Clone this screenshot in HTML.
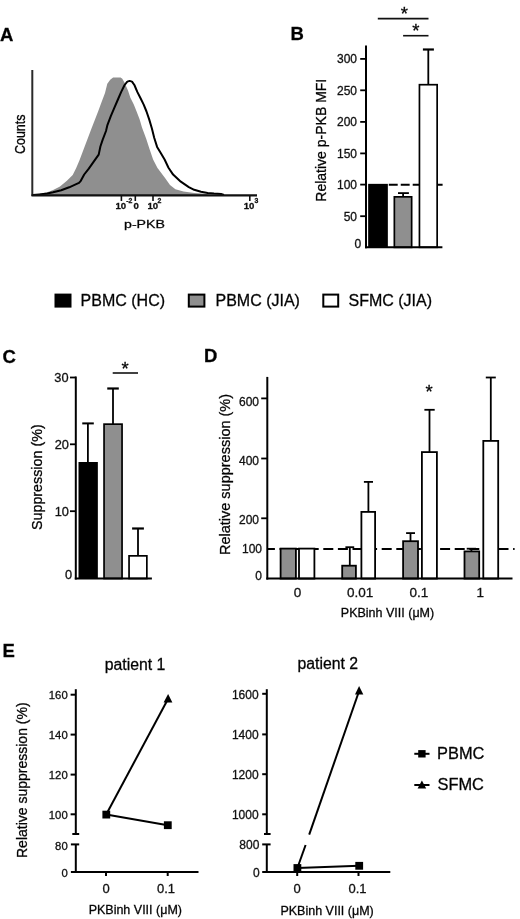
<!DOCTYPE html>
<html><head><meta charset="utf-8">
<style>
html,body{margin:0;padding:0;background:#fff;}
body{width:520px;height:919px;overflow:hidden;}
svg{display:block;font-family:"Liberation Sans",sans-serif;will-change:transform;}
svg text{stroke:#111;stroke-width:0.3px;}
</style></head>
<body>
<svg width="520" height="919" viewBox="0 0 520 919">
<rect x="0" y="0" width="520" height="919" fill="#fff"/>

<!-- ================= Panel A ================= -->
<g id="A">
<text x="0" y="41.3" font-size="18.5" font-weight="bold" fill="#000">A</text>
<polygon fill="#8f8f8f" points="33,195 39.2,194 47.3,192.3 53.1,190 60,186.5 66.9,180.8 72.7,175 76.2,168.1 79.6,160 84.2,147.7 87.7,138.5 91.2,129.2 94.6,120.6 98.1,111.5 101.5,102.3 105,93.1 107.3,83.8 110.2,79.8 113.1,77.5 120.6,77.5 122.3,78.7 124.6,82.7 128.1,90.8 130.4,97.7 133.8,104.6 136.6,111.5 139.5,119 142,127.5 146.2,138.8 149.6,149.2 153.1,159.6 157.5,168 165.4,178.5 170,185 175.4,189.3 183.5,191.5 194.2,193 205,193.8 212,195.3"/>
<polyline fill="none" stroke="#000" stroke-width="2" stroke-linejoin="round" points="33,195 39.2,194.4 47.3,193.5 53.1,192.3 61.2,190.2 69.2,187.3 76.2,184.2 79,182.9 80.8,180.8 84.2,174.5 88.8,168.6 94.6,160.4 98.7,154.6 100.4,146.5 102.7,139.6 106,131 107.3,125.4 110.8,116.2 114.2,108.1 117.7,100 121.2,91.9 124.6,85 127.3,81.6 129.6,80.9 132,81.6 134.4,85 137.3,91.9 140.8,98.8 143.7,104.6 146.5,111.5 149.2,119.4 151.9,128.5 154.2,137.7 157.1,146.9 160.6,152.7 164.6,159.5 168.5,167.7 173.1,174.6 180.8,181.7 188.8,187.1 194.2,189.8 201,191.8 207.7,193.1 214,193.6 221,193.9 224,195"/>
<line x1="32.3" y1="70" x2="32.3" y2="196" stroke="#2a2a2a" stroke-width="2"/>
<line x1="31.5" y1="195.4" x2="257" y2="195.4" stroke="#111" stroke-width="2.3"/>
<g stroke="#111" stroke-width="1.6">
<line x1="121.4" y1="195" x2="121.4" y2="201"/>
<line x1="135.3" y1="195" x2="135.3" y2="201"/>
<line x1="153" y1="195" x2="153" y2="201"/>
<line x1="249.8" y1="195" x2="249.8" y2="201"/>
</g>
<g font-size="9.6" font-weight="bold" fill="#111">
<text x="115.5" y="209.3">10</text><text x="126.3" y="203.4" font-size="6.9">-2</text>
<text x="133.5" y="209.3">0</text>
<text x="147.5" y="209.3">10</text><text x="157.6" y="203.4" font-size="6.9">2</text>
<text x="243.7" y="209.3">10</text><text x="254.5" y="203.4" font-size="6.9">3</text>
</g>
<text x="144.5" y="228.3" font-size="11.8" text-anchor="middle" transform="translate(144.5 0) scale(1.2 1) translate(-144.5 0)">p-PKB</text>
<text font-size="12.5" text-anchor="middle" transform="translate(25 134.3) scale(1.2 1) rotate(-90)">Counts</text>
</g>

<!-- ================= Panel B ================= -->
<g id="B">
<text x="290.5" y="39.9" font-size="18.5" font-weight="bold">B</text>
<!-- significance -->
<line x1="377.8" y1="18.6" x2="428.5" y2="18.6" stroke="#111" stroke-width="1.6"/>
<line x1="403.1" y1="35.7" x2="428.5" y2="35.7" stroke="#111" stroke-width="1.6"/>
<text x="404.4" y="19.5" font-size="18.5" text-anchor="middle">*</text>
<text x="415.8" y="36.8" font-size="18.5" text-anchor="middle">*</text>
<!-- bars -->
<rect x="368.15" y="183.85" width="19.7" height="63.45" fill="#000"/>
<rect x="394.35" y="196.85" width="17.3" height="50.5" fill="#8f8f8f" stroke="#000" stroke-width="1.7"/>
<line x1="403.1" y1="196.85" x2="403.1" y2="193.1" stroke="#000" stroke-width="1.8"/>
<line x1="398" y1="193.1" x2="408.9" y2="193.1" stroke="#000" stroke-width="1.8"/>
<line x1="388.8" y1="184.8" x2="442.6" y2="184.8" stroke="#000" stroke-width="2" stroke-dasharray="8.9 3.05"/>
<rect x="419.45" y="84.7" width="17.7" height="162.6" fill="#fff" stroke="#000" stroke-width="1.7"/>
<line x1="428.3" y1="84.7" x2="428.3" y2="49.5" stroke="#000" stroke-width="1.8"/>
<line x1="422.9" y1="49.5" x2="433.9" y2="49.5" stroke="#000" stroke-width="2.2"/>
<!-- dashed 100 -->
<!-- axes -->
<line x1="366" y1="45.6" x2="366" y2="248.2" stroke="#000" stroke-width="2"/>
<line x1="365" y1="247.3" x2="442.4" y2="247.3" stroke="#000" stroke-width="2"/>
<g stroke="#000" stroke-width="1.8">
<line x1="360.2" y1="58.9" x2="366" y2="58.9"/>
<line x1="360.2" y1="90.3" x2="366" y2="90.3"/>
<line x1="360.2" y1="121.9" x2="366" y2="121.9"/>
<line x1="360.2" y1="153.4" x2="366" y2="153.4"/>
<line x1="360.2" y1="184.6" x2="366" y2="184.6"/>
<line x1="360.2" y1="216.2" x2="366" y2="216.2"/>
</g>
<g font-size="12" text-anchor="end" fill="#111">
<text x="357" y="63.4">300</text>
<text x="357" y="94.7">250</text>
<text x="357" y="126.3">200</text>
<text x="357" y="157.8">150</text>
<text x="357" y="189.2">100</text>
<text x="357" y="220.8">50</text>
<text x="361.3" y="247.6">0</text>
</g>
<text font-size="14" text-anchor="middle" transform="translate(326 140.2) rotate(-90)">Relative p-PKB MFI</text>
</g>

<!-- ================= Legend ================= -->
<g id="legend" font-size="16">
<rect x="55.5" y="294.6" width="15" height="12" fill="#000" stroke="#000" stroke-width="2"/>
<text x="80.6" y="305.8">PBMC (HC)</text>
<rect x="188.8" y="294.6" width="15.6" height="12" fill="#8f8f8f" stroke="#000" stroke-width="2"/>
<text x="215.5" y="305.8">PBMC (JIA)</text>
<rect x="323.3" y="294.6" width="14.9" height="12" fill="#fff" stroke="#000" stroke-width="2"/>
<text x="348.5" y="305.8">SFMC (JIA)</text>
</g>

<!-- ================= Panel C ================= -->
<g id="C">
<text x="2.5" y="362.9" font-size="18.5" font-weight="bold">C</text>
<line x1="112.7" y1="373" x2="138" y2="373" stroke="#111" stroke-width="1.6"/>
<text x="125" y="375.3" font-size="18.5" text-anchor="middle">*</text>
<!-- bars -->
<rect x="78.5" y="462" width="19.35" height="116.5" fill="#000"/>
<line x1="87.9" y1="462" x2="87.9" y2="423.4" stroke="#000" stroke-width="1.8"/>
<line x1="82.25" y1="423.4" x2="93.8" y2="423.4" stroke="#000" stroke-width="2"/>
<rect x="104.05" y="424.15" width="18" height="154.35" fill="#8f8f8f" stroke="#000" stroke-width="1.7"/>
<line x1="113" y1="424.15" x2="113" y2="388.5" stroke="#000" stroke-width="1.8"/>
<line x1="107.25" y1="388.5" x2="118.8" y2="388.5" stroke="#000" stroke-width="2.2"/>
<rect x="129.05" y="555.85" width="17.8" height="22.65" fill="#fff" stroke="#000" stroke-width="1.7"/>
<line x1="138" y1="555.85" x2="138" y2="528.5" stroke="#000" stroke-width="1.8"/>
<line x1="132.1" y1="528.5" x2="143.9" y2="528.5" stroke="#000" stroke-width="2.2"/>
<!-- axes -->
<line x1="75.8" y1="376.5" x2="75.8" y2="579.5" stroke="#000" stroke-width="2"/>
<line x1="74.8" y1="578.5" x2="151.9" y2="578.5" stroke="#000" stroke-width="2"/>
<g stroke="#000" stroke-width="1.8">
<line x1="70" y1="377.5" x2="75.8" y2="377.5"/>
<line x1="70" y1="444.3" x2="75.8" y2="444.3"/>
<line x1="70" y1="511.2" x2="75.8" y2="511.2"/>
</g>
<g font-size="12.8" text-anchor="end" fill="#111">
<text x="68.5" y="381.8">30</text>
<text x="68.9" y="448.6">20</text>
<text x="68.9" y="515.5">10</text>
<text x="72.2" y="579">0</text>
</g>
<text font-size="14.3" text-anchor="middle" transform="translate(41.5 477.2) rotate(-90)">Suppression (%)</text>
</g>

<!-- ================= Panel D ================= -->
<g id="D">
<text x="204" y="362.4" font-size="18.5" font-weight="bold">D</text>
<text x="429" y="397.5" font-size="18.5" text-anchor="middle">*</text>
<line x1="267.3" y1="548.9" x2="514.6" y2="548.9" stroke="#000" stroke-width="2" stroke-dasharray="10 4.6" stroke-dashoffset="2.4"/>
<g stroke="#000" stroke-width="1.8">
<!-- cat 0 -->
<rect x="280.6" y="548.6" width="15.3" height="30" fill="#8f8f8f"/>
<rect x="299" y="548.6" width="15.4" height="30" fill="#fff"/>
<!-- cat 0.01 -->
<rect x="342.2" y="565.7" width="13.7" height="12.9" fill="#8f8f8f"/>
<line x1="349.8" y1="565.7" x2="349.8" y2="547.2"/>
<line x1="345.4" y1="547.2" x2="354.2" y2="547.2"/>
<rect x="361.4" y="511.9" width="13.7" height="66.7" fill="#fff"/>
<line x1="368.4" y1="511.9" x2="368.4" y2="481.9"/>
<line x1="363.9" y1="481.9" x2="373" y2="481.9"/>
<!-- cat 0.1 -->
<rect x="403.1" y="541.2" width="14.9" height="37.4" fill="#8f8f8f"/>
<line x1="410.5" y1="541.2" x2="410.5" y2="533.1"/>
<line x1="406.1" y1="533.1" x2="415" y2="533.1"/>
<rect x="421.9" y="452.1" width="15" height="126.5" fill="#fff"/>
<line x1="429.5" y1="452.1" x2="429.5" y2="409.8"/>
<line x1="424.4" y1="409.8" x2="434.7" y2="409.8"/>
<!-- cat 1 -->
<rect x="464.5" y="551.4" width="14.7" height="27.2" fill="#8f8f8f"/>
<line x1="471.4" y1="551.4" x2="471.4" y2="548.7"/>
<line x1="466.7" y1="548.7" x2="476.1" y2="548.7"/>
<rect x="483.3" y="440.9" width="14.9" height="137.7" fill="#fff"/>
<line x1="490.8" y1="440.9" x2="490.8" y2="377.5"/>
<line x1="485.8" y1="377.5" x2="495.8" y2="377.5"/>
</g>
<line x1="267.3" y1="376.9" x2="267.3" y2="579.6" stroke="#000" stroke-width="2"/>
<line x1="266.3" y1="578.6" x2="512.5" y2="578.6" stroke="#000" stroke-width="2"/>
<g stroke="#000" stroke-width="1.8">
<line x1="261.2" y1="398.4" x2="267.3" y2="398.4"/>
<line x1="261.2" y1="458.5" x2="267.3" y2="458.5"/>
<line x1="261.2" y1="518.3" x2="267.3" y2="518.3"/>
</g>
<g font-size="12" text-anchor="end" fill="#111">
<text x="259" y="406">600</text>
<text x="259" y="464.8">400</text>
<text x="259" y="524.2">200</text>
<text x="262" y="553.1">100</text>
<text x="262" y="579.6">0</text>
</g>
<g font-size="13.5" text-anchor="middle" fill="#111">
<text x="297.6" y="596.6">0</text>
<text x="360.2" y="596.6">0.01</text>
<text x="419" y="596.6">0.1</text>
<text x="480.2" y="596.6">1</text>
</g>
<text x="387.5" y="617" font-size="12.5" text-anchor="middle">PKBinh VIII (μM)</text>
<text font-size="14.5" text-anchor="middle" transform="translate(230 474.5) rotate(-90)">Relative suppression (%)</text>
</g>

<!-- ================= Panel E ================= -->
<g id="E">
<text x="2.5" y="656.6" font-size="18.5" font-weight="bold">E</text>
<text x="135" y="669.8" font-size="15.8" text-anchor="middle">patient 1</text>
<text x="327.8" y="669.3" font-size="15.8" text-anchor="middle">patient 2</text>
<text font-size="14" text-anchor="middle" transform="translate(27 780.2) rotate(-90)">Relative suppression (%)</text>

<!-- patient 1 axes -->
<g stroke="#000" stroke-width="2">
<line x1="75.8" y1="689.2" x2="75.8" y2="834"/>
<line x1="72.3" y1="834" x2="79.2" y2="834"/>
<line x1="75.8" y1="844.4" x2="75.8" y2="872.1"/>
<line x1="70.9" y1="844.4" x2="79.2" y2="844.4"/>
<line x1="70.9" y1="872.1" x2="198.5" y2="872.1"/>
<line x1="70.6" y1="694.7" x2="75.8" y2="694.7"/>
<line x1="70.6" y1="734.6" x2="75.8" y2="734.6"/>
<line x1="70.6" y1="774.6" x2="75.8" y2="774.6"/>
<line x1="70.6" y1="814.3" x2="75.8" y2="814.3"/>
<line x1="106" y1="872" x2="106" y2="876"/>
<line x1="167.7" y1="872" x2="167.7" y2="876"/>
</g>
<g font-size="11.3" text-anchor="end" fill="#111">
<text x="67.7" y="698.7">160</text>
<text x="67.7" y="738.6">140</text>
<text x="67.7" y="778.6">120</text>
<text x="67.7" y="818.8">100</text>
<text x="67.7" y="849.6">80</text>
<text x="67.7" y="877.2">0</text>
</g>
<g font-size="13" text-anchor="middle" fill="#111">
<text x="106" y="893">0</text>
<text x="166" y="893">0.1</text>
</g>
<text x="135.3" y="914.3" font-size="12.5" text-anchor="middle">PKBinh VIII (μM)</text>
<!-- patient 1 data -->
<g stroke="#000" stroke-width="2" fill="none">
<line x1="106.2" y1="814.5" x2="168" y2="699"/>
<line x1="106.2" y1="814.5" x2="167.8" y2="825.2"/>
</g>
<rect x="102.4" y="810.7" width="7.8" height="7.8" fill="#000"/>
<rect x="163.9" y="821.3" width="7.8" height="7.8" fill="#000"/>
<polygon points="168.1,694 163.6,702.5 172.4,702.5" fill="#000"/>

<!-- patient 2 axes -->
<g stroke="#000" stroke-width="2">
<line x1="266.8" y1="689.2" x2="266.8" y2="834"/>
<line x1="264" y1="834" x2="270.6" y2="834"/>
<line x1="266.8" y1="844.4" x2="266.8" y2="872.1"/>
<line x1="262.2" y1="844.4" x2="270.6" y2="844.4"/>
<line x1="262.2" y1="872.1" x2="390.3" y2="872.1"/>
<line x1="262.2" y1="693.8" x2="266.8" y2="693.8"/>
<line x1="262.2" y1="734.4" x2="266.8" y2="734.4"/>
<line x1="262.2" y1="774.2" x2="266.8" y2="774.2"/>
<line x1="262.2" y1="814.3" x2="266.8" y2="814.3"/>
<line x1="297.2" y1="872" x2="297.2" y2="876"/>
<line x1="358.5" y1="872" x2="358.5" y2="876"/>
</g>
<g font-size="12" text-anchor="end" fill="#111">
<text x="258.6" y="699">1600</text>
<text x="258.6" y="739.4">1400</text>
<text x="258.6" y="779.2">1200</text>
<text x="258.6" y="819.3">1000</text>
<text x="259.4" y="849.3">800</text>
<text x="259.8" y="877.3">0</text>
</g>
<g font-size="13" text-anchor="middle" fill="#111">
<text x="297" y="892.5">0</text>
<text x="357.5" y="892.5">0.1</text>
</g>
<text x="327.1" y="914.8" font-size="12.5" text-anchor="middle">PKBinh VIII (μM)</text>
<!-- patient 2 data -->
<g stroke="#000" stroke-width="2" fill="none">
<line x1="297.4" y1="868" x2="305.6" y2="845"/>
<line x1="309.2" y1="834.6" x2="359.1" y2="691"/>
<line x1="297.4" y1="868" x2="359.2" y2="865.8"/>
</g>
<rect x="293.5" y="864.1" width="7.8" height="7.8" fill="#000"/>
<rect x="355.3" y="861.9" width="7.8" height="7.8" fill="#000"/>
<polygon points="359.1,686 355,694.4 363.3,694.4" fill="#000"/>

<!-- legend E -->
<line x1="414.3" y1="753.8" x2="429.5" y2="753.8" stroke="#000" stroke-width="2"/>
<rect x="418.2" y="750.1" width="7.4" height="7.4" fill="#000"/>
<text x="437.1" y="759.3" font-size="16.4">PBMC</text>
<line x1="414.3" y1="785" x2="429.5" y2="785" stroke="#000" stroke-width="2"/>
<polygon points="421.9,780.5 417.6,788.6 426.2,788.6" fill="#000"/>
<text x="437.5" y="790.2" font-size="16.4">SFMC</text>
</g>
</svg>
</body></html>
